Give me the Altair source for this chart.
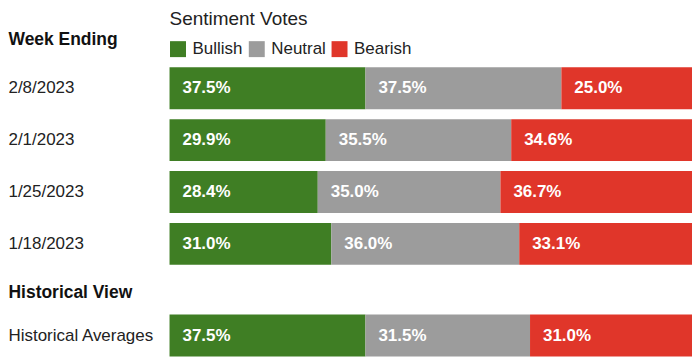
import altair as alt
import pandas as pd

# ---- data ----
weeks = ["2/8/2023", "2/1/2023", "1/25/2023", "1/18/2023"]
bullish = [37.5, 29.9, 28.4, 31.0]
neutral = [37.5, 35.5, 35.0, 36.0]
bearish = [25.0, 34.6, 36.7, 33.1]

hist_rows = ["Historical Averages"]
hist_bullish = [37.5]
hist_neutral = [31.5]
hist_bearish = [31.0]

sentiments = ["Bullish", "Neutral", "Bearish"]
colors = ["#3f7e24", "#9c9c9c", "#e0362a"]

FONT = "Liberation Sans"


def long_df(rows, b, n, r):
    recs = []
    for i, row in enumerate(rows):
        for k, (s, vals) in enumerate(zip(sentiments, [b, n, r])):
            recs.append({"week": row, "sentiment": s, "value": vals[i], "order": k})
    return pd.DataFrame(recs)


top_df = long_df(weeks, bullish, neutral, bearish)
hist_df = long_df(hist_rows, hist_bullish, hist_neutral, hist_bearish)

color_scale = alt.Scale(domain=sentiments, range=colors)
x_scale = alt.Scale(domain=[0, 1], nice=False, zero=True)


def build(df, rows, height, inner, title, title_y, legend):
    base = (
        alt.Chart(df)
        .transform_stack(
            stack="value",
            groupby=["week"],
            as_=["x0", "x1"],
            offset="normalize",
            sort=[alt.SortField("order", order="ascending")],
        )
        .transform_calculate(label="format(datum.value, '.1f') + '%'")
    )
    y = alt.Y(
        "week:N",
        sort=rows,
        scale=alt.Scale(paddingInner=inner, paddingOuter=0),
        axis=alt.Axis(
            title=title,
            titleAngle=0,
            titleAlign="left",
            titleBaseline="middle",
            titleX=-162,
            titleY=title_y,
            titleFont=FONT,
            titleFontSize=17.5,
            titleFontWeight="bold",
            titleColor="#111111",
            labelAlign="left",
            labelPadding=162,
            labelFont=FONT,
            labelFontSize=17,
            labelColor="#222222",
            ticks=False,
            domain=False,
            grid=False,
        ),
    )
    bars = base.mark_bar(cornerRadius=0).encode(
        x=alt.X("x0:Q", scale=x_scale, axis=None),
        x2="x1:Q",
        y=y,
        color=alt.Color("sentiment:N", scale=color_scale, legend=legend),
    )
    text = base.mark_text(
        align="left",
        baseline="middle",
        dx=13,
        font=FONT,
        fontSize=17,
        fontWeight="bold",
        color="#ffffff",
    ).encode(
        x=alt.X("x0:Q", scale=x_scale, axis=None),
        y=alt.Y("week:N", sort=rows),
        text="label:N",
    )
    return (bars + text).properties(width=524, height=height)


legend = alt.Legend(
    title="Sentiment Votes",
    orient="top",
    direction="horizontal",
    titleFont="Arial",
    titleFontSize=19,
    titleFontWeight="normal",
    titleColor="#222222",
    titlePadding=11,
    labelFont=FONT,
    labelFontSize=17,
    labelColor="#222222",
    labelOffset=6,
    columnPadding=5,
    symbolType="square",
    symbolSize=256,
    symbolStrokeWidth=0,
    symbolOpacity=1,
    offset=10,
)

top = build(top_df, weeks, 198, 10 / 52, "Week Ending", -28, legend)
bottom = build(hist_df, hist_rows, 42, 0, "Historical View", -22, None)

chart = (
    alt.vconcat(top, bottom, spacing=50, bounds="flush")
    .resolve_scale(color="independent")
    .resolve_legend(color="independent")
    .properties(padding={"left": 0, "top": 2, "right": 0, "bottom": 0}, background="white")
    .configure(font=FONT)
    .configure_view(stroke=None)
)

chart.save("out.html", embed_options={"renderer": "svg", "actions": False})
